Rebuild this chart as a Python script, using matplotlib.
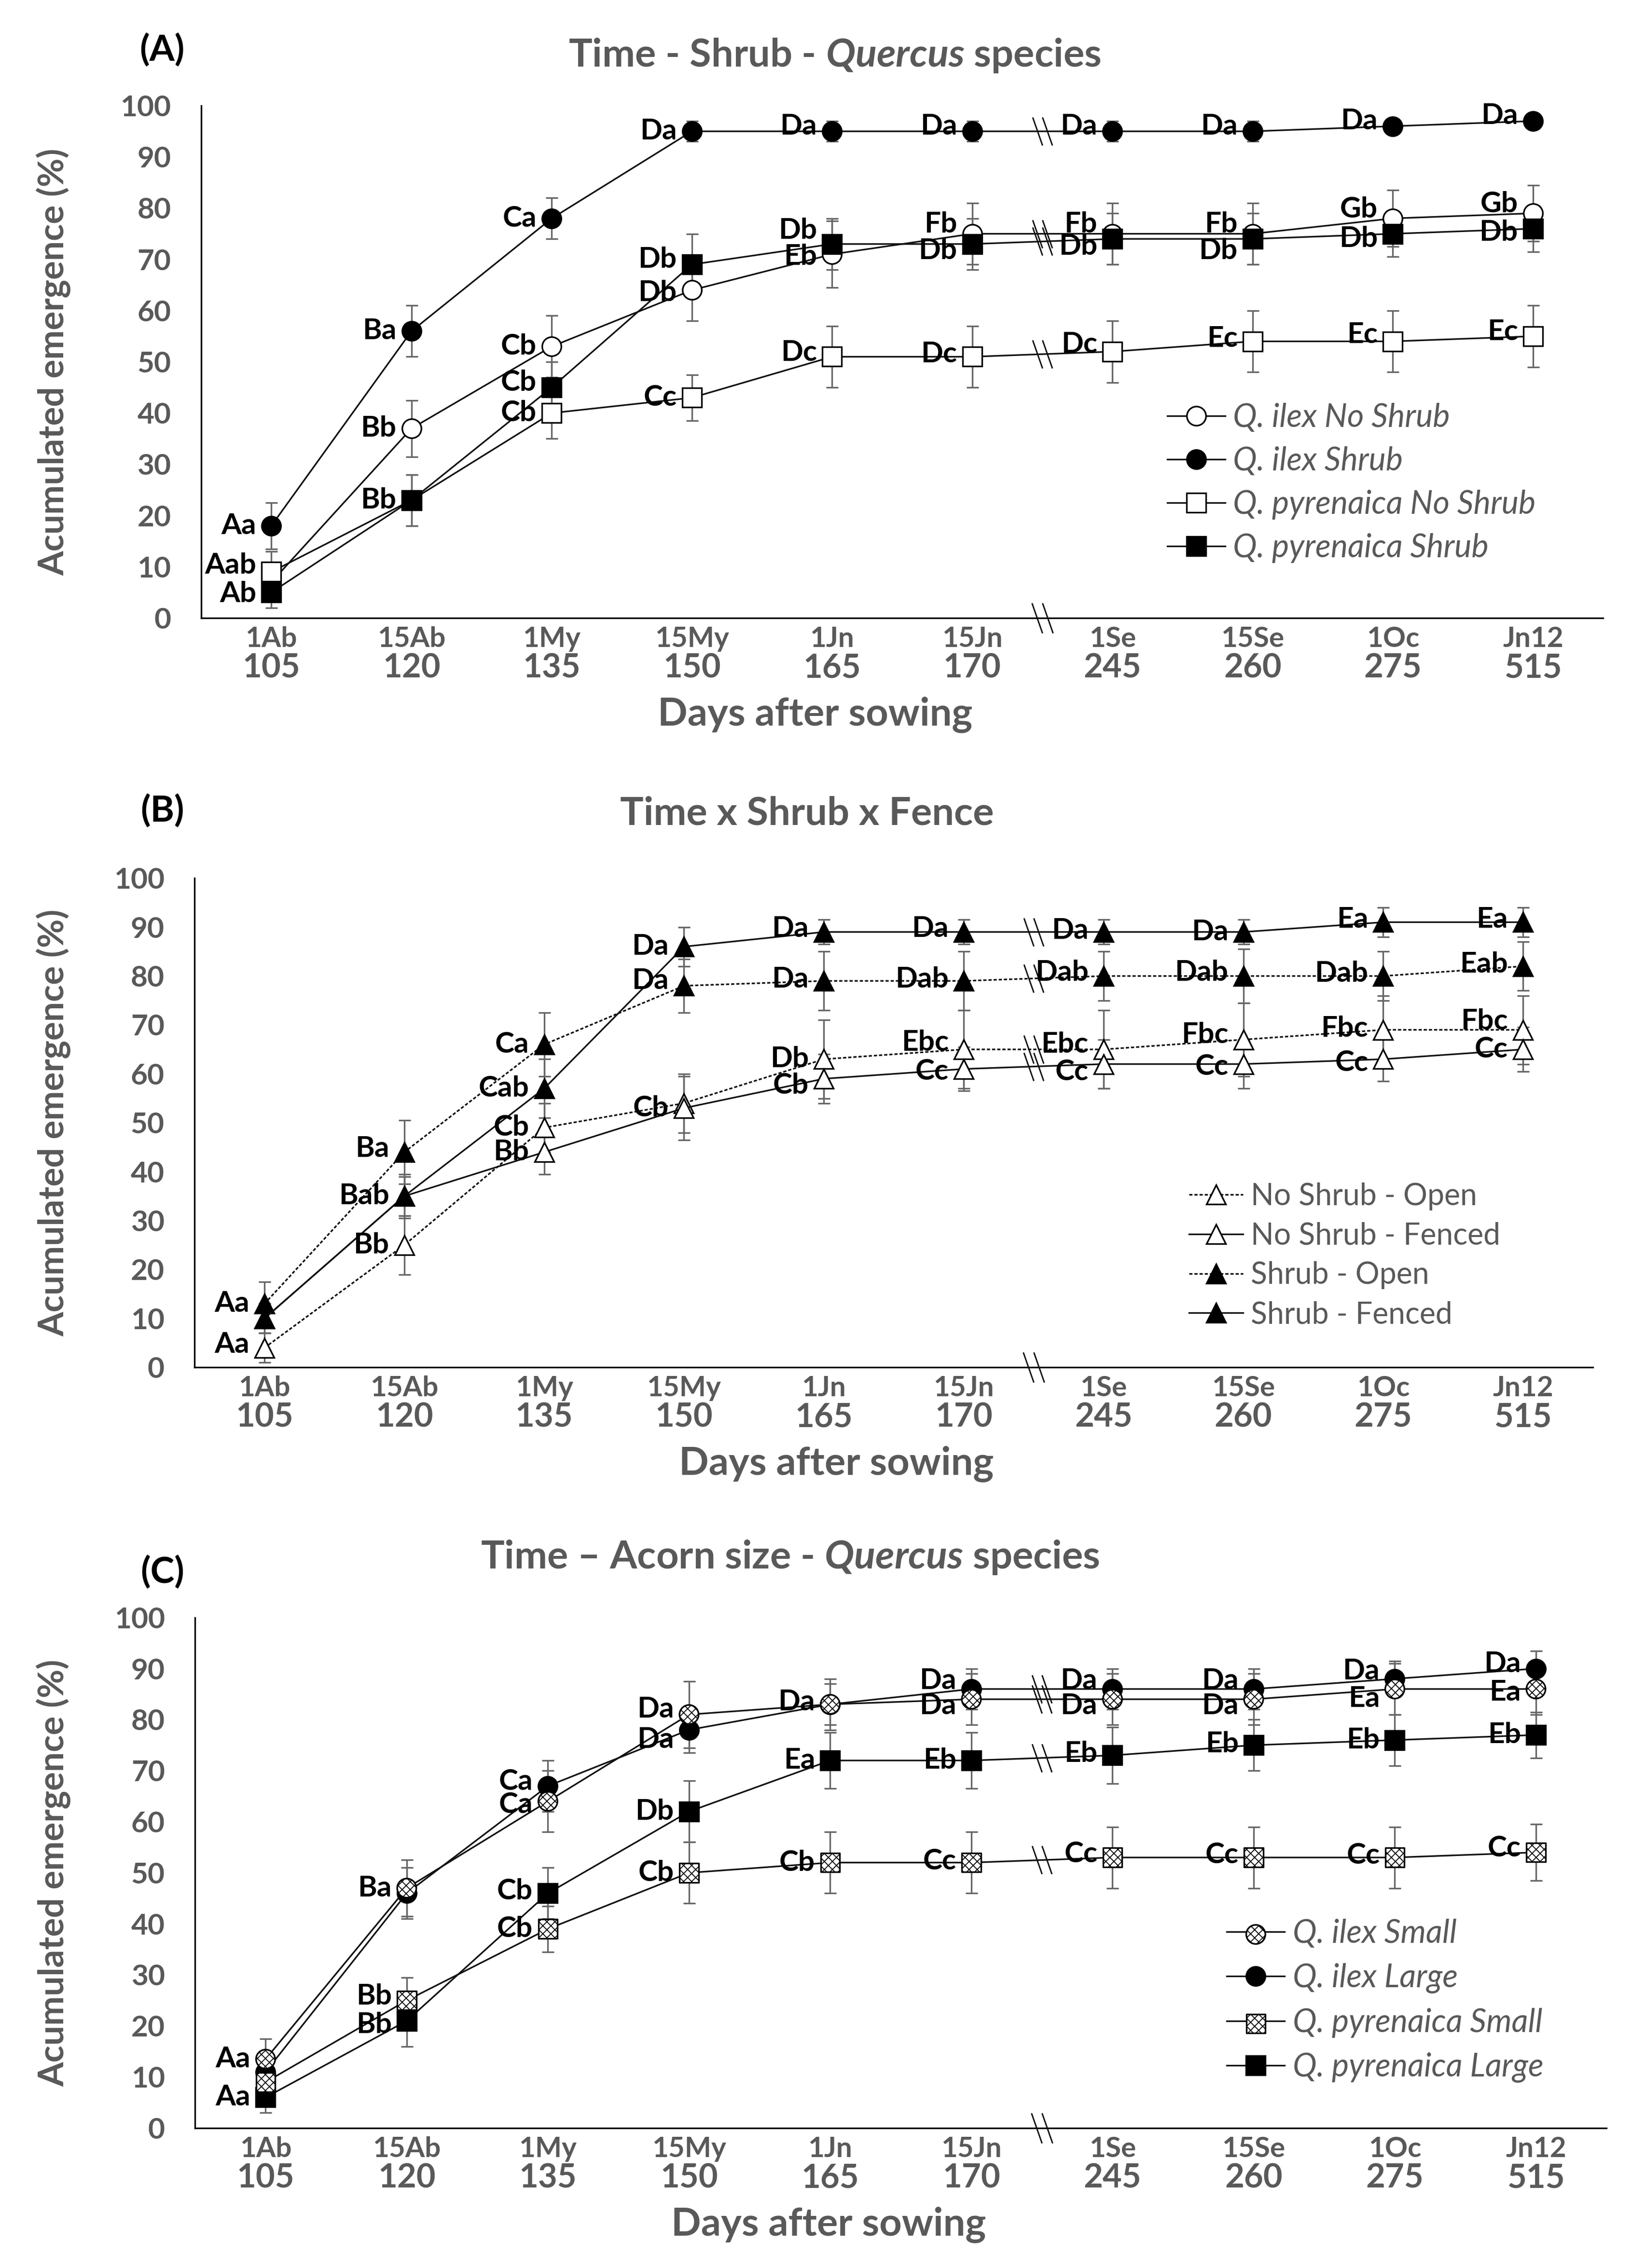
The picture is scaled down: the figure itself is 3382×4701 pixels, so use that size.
import numpy as np
import matplotlib
matplotlib.use('Agg')
import matplotlib.pyplot as plt
from matplotlib.path import Path
from matplotlib.lines import Line2D
from matplotlib.legend_handler import HandlerTuple

plt.rcParams['font.family'] = ['Lato', 'DejaVu Sans']
plt.rcParams['mathtext.fontset'] = 'custom'
plt.rcParams['mathtext.it'] = 'Lato:italic:bold'
plt.rcParams['mathtext.rm'] = 'Lato:bold'
plt.rcParams['hatch.linewidth'] = 0.45

GRAY = '#595959'
LINE = '#111111'
ERR = '#666666'

dates = ['1Ab', '15Ab', '1My', '15My', '1Jn', '15Jn', '1Se', '15Se', '1Oc', 'Jn12']
days = ['105', '120', '135', '150', '165', '170', '245', '260', '275', '515']

# ---- (A) Time - Shrub - Quercus species ----
a_ilex_ns = [7, 37, 53, 64, 71, 75, 75, 75, 78, 79]
a_ilex_ns_err = [3, 5.5, 6, 6, 6.5, 6, 6, 6, 5.5, 5.5]
a_ilex_ns_lab = ['', 'Bb', 'Cb', 'Db', 'Eb', 'Fb', 'Fb', 'Fb', 'Gb', 'Gb']
a_ilex_s = [18, 56, 78, 95, 95, 95, 95, 95, 96, 97]
a_ilex_s_err = [4.5, 5, 4, 2, 2, 2, 2, 2, 1.5, 1.5]
a_ilex_s_lab = ['Aa', 'Ba', 'Ca', 'Da', 'Da', 'Da', 'Da', 'Da', 'Da', 'Da']
a_pyr_ns = [9, 23, 40, 43, 51, 51, 52, 54, 54, 55]
a_pyr_ns_err = [4, 5, 5, 4.5, 6, 6, 6, 6, 6, 6]
a_pyr_ns_lab = ['Aab', '', 'Cb', 'Cc', 'Dc', 'Dc', 'Dc', 'Ec', 'Ec', 'Ec']
a_pyr_s = [5, 23, 45, 69, 73, 73, 74, 74, 75, 76]
a_pyr_s_err = [3, 5, 5, 6, 5, 5, 5, 5, 4.5, 4.5]
a_pyr_s_lab = ['Ab', 'Bb', 'Cb', 'Db', 'Db', 'Db', 'Db', 'Db', 'Db', 'Db']
a_names = ['Q. ilex No Shrub', 'Q. ilex Shrub', 'Q. pyrenaica No Shrub', 'Q. pyrenaica Shrub']

# ---- (B) Time x Shrub x Fence ----
b_ns_open = [4, 25, 49, 54, 63, 65, 65, 67, 69, 69]
b_ns_open_err = [3, 6, 5, 6, 8, 8, 8, 7.5, 7, 7]
b_ns_open_lab = ['Aa', 'Bb', 'Cb', '', 'Db', 'Ebc', 'Ebc', 'Fbc', 'Fbc', 'Fbc']
b_ns_fen = [10, 35, 44, 53, 59, 61, 62, 62, 63, 65]
b_ns_fen_err = [3, 4, 4.5, 6.5, 5, 4.5, 5, 5, 4.5, 4.5]
b_ns_fen_lab = ['', '', 'Bb', 'Cb', 'Cb', 'Cc', 'Cc', 'Cc', 'Cc', 'Cc']
b_s_open = [13, 44, 66, 78, 79, 79, 80, 80, 80, 82]
b_s_open_err = [4.5, 6.5, 6.5, 5.5, 6, 6, 5, 5.5, 5, 5]
b_s_open_lab = ['Aa', 'Ba', 'Ca', 'Da', 'Da', 'Dab', 'Dab', 'Dab', 'Dab', 'Eab']
b_s_fen = [10, 35, 57, 86, 89, 89, 89, 89, 91, 91]
b_s_fen_err = [3, 4.5, 6, 4, 2.5, 2.5, 2.5, 2.5, 3, 3]
b_s_fen_lab = ['', 'Bab', 'Cab', 'Da', 'Da', 'Da', 'Da', 'Da', 'Ea', 'Ea']
b_names = ['No Shrub - Open', 'No Shrub - Fenced', 'Shrub - Open', 'Shrub - Fenced']

# ---- (C) Time - Acorn size - Quercus species ----
c_ilex_sm = [13.5, 47, 64, 81, 83, 84, 84, 84, 86, 86]
c_ilex_sm_err = [4, 5.5, 6, 6.5, 5, 5, 5, 5, 5, 5]
c_ilex_sm_lab = ['Aa', '', 'Ca', 'Da', 'Da', 'Da', 'Da', 'Da', 'Ea', 'Ea']
c_ilex_lg = [11, 46, 67, 78, 83, 86, 86, 86, 88, 90]
c_ilex_lg_err = [3, 5, 5, 4.5, 4, 4, 4, 4, 3.5, 3.5]
c_ilex_lg_lab = ['', 'Ba', 'Ca', 'Da', '', 'Da', 'Da', 'Da', 'Da', 'Da']
c_pyr_sm = [9, 25, 39, 50, 52, 52, 53, 53, 53, 54]
c_pyr_sm_err = [3, 4.5, 4.5, 6, 6, 6, 6, 6, 6, 5.5]
c_pyr_sm_lab = ['', 'Bb', 'Cb', 'Cb', 'Cb', 'Cc', 'Cc', 'Cc', 'Cc', 'Cc']
c_pyr_lg = [6, 21, 46, 62, 72, 72, 73, 75, 76, 77]
c_pyr_lg_err = [3, 5, 5, 6, 5.5, 5.5, 5.5, 5, 5, 4.5]
c_pyr_lg_lab = ['Aa', 'Bb', 'Cb', 'Db', 'Ea', 'Eb', 'Eb', 'Eb', 'Eb', 'Eb']
c_names = ['Q. ilex Small', 'Q. ilex Large', 'Q. pyrenaica Small', 'Q. pyrenaica Large']

# label vertical nudges (value units), style only
a_dy = [[0, 0, 0, -0.5, -0.5, 1.8, 1.8, 1.8, 1.8, 1.8],
        [0, 0, 0, 0, 1, 1, 1, 1, 1, 1],
        [1.3, 0, 0, 0, 0.8, 0.5, 1.4, 0.5, 1.3, 0.8],
        [-0.3, 0, 1, 1, 2.6, -1.3, -1.5, -2.3, -1, -0.8]]
b_dy = [[0.7, 0, 0, 0, 0, 1.4, 1, 1, 0.3, 1.7],
        [0, 0, 0, 0, -1.4, -0.5, -1.6, -0.5, -0.7, 0],
        [0, 0.7, 0, 1, 0.3, 0.3, 0.7, 0.7, 0.5, 0.4],
        [0, 0, 0, 0, 0.7, 0.7, 0.3, 0, 0.5, 0.5]]
c_dy = [[0, 0, -0.7, 1, 0.4, -1.3, -1.3, -1.3, -1.9, -0.7],
        [0, 1, 0.8, -1.9, 0, 1.6, 1.6, 1.6, 1.5, 0.9],
        [0, 0.8, 0, 0, 0, 0.3, 0.7, 0.5, 0.4, 0.8],
        [0, -0.8, 0.4, 0, 0, 0, 0.3, 0.2, 0, 0]]

BRK = Path([(-0.35, 0.5), (0.0, -0.5), (0.0, 0.5), (0.35, -0.5)],
           [Path.MOVETO, Path.LINETO, Path.MOVETO, Path.LINETO])
MS = 9.5


def panel(ax, series, dys, names, legend_xy, italic_legend, lsize, lspace):
    x = np.arange(len(dates))
    for s in series:
        ax.errorbar(x, s['y'], yerr=s['err'], fmt='none', ecolor=ERR, elinewidth=0.8,
                    capsize=3, capthick=0.8, zorder=2)
    handles = []
    for s, dy, nm in zip(series, dys, names):
        if s['fc'] == 'pattern':
            ax.plot(x, s['y'], ls=s['ls'], color=LINE, lw=0.8, zorder=3)
            sc = ax.scatter(x, s['y'], s=MS ** 2, marker=s['m'], facecolor='white',
                            edgecolor='black', linewidth=0.8, hatch='xxxxxx', zorder=3.5)
            h = (Line2D([], [], ls=s['ls'], color=LINE, lw=0.8), sc)
        else:
            ax.plot(x, s['y'], ls=s['ls'], color=LINE, lw=0.8, marker=s['m'], ms=MS,
                    mfc=s['fc'], mec='black', mew=0.8, zorder=3)
            h = Line2D([], [], ls=s['ls'], color=LINE, lw=0.8, marker=s['m'], ms=MS,
                       mfc=s['fc'], mec='black', mew=0.8)
        handles.append(h)
        yb = 0.5 * (s['y'][5] + s['y'][6])
        ax.plot([5.5], [yb], ls='none', marker=BRK, ms=14, mfc='none', mec=LINE,
                mew=0.7, zorder=4)
        for i, lab in enumerate(s['lab']):
            if lab:
                ax.annotate(lab, (i, s['y'][i] + dy[i]), xytext=(-7.5, 0), textcoords='offset points',
                            ha='right', va='center', fontsize=14.5, fontweight='bold',
                            color='black', zorder=5)
    # axis break
    ax.plot([5.5], [0], ls='none', marker=BRK, ms=15, mfc='none', mec=LINE, mew=0.7,
            zorder=6, clip_on=False)
    ax.set_xlim(-0.5, 9.5)
    ax.set_ylim(0, 100)
    ax.set_yticks(range(0, 101, 10))
    ax.set_xticks(x)
    ax.set_xticklabels(dates)
    for t in ax.get_yticklabels():
        t.set_fontsize(14.5); t.set_fontweight('bold'); t.set_color(GRAY)
    for t in ax.get_xticklabels():
        t.set_fontsize(14); t.set_fontweight('bold'); t.set_color(GRAY)
    ax.tick_params(axis='y', length=0, pad=15)
    ax.tick_params(axis='x', length=0, pad=4)
    for i, d in enumerate(days):
        ax.annotate(d, (i, 0), xycoords=('data', 'axes fraction'), xytext=(0, -25),
                    textcoords='offset points', ha='center', va='center', fontsize=16.5,
                    fontweight='bold', color=GRAY, annotation_clip=False)
    for sp in ['top', 'right']:
        ax.spines[sp].set_visible(False)
    for sp in ['left', 'bottom']:
        ax.spines[sp].set_linewidth(0.8)
        ax.spines[sp].set_color('black')
    prop = {'size': lsize, 'style': 'italic' if italic_legend else 'normal'}
    ax.legend(handles, names, loc='upper left', bbox_to_anchor=legend_xy, frameon=False,
              prop=prop, labelcolor=GRAY, handlelength=1.8, handletextpad=0.25,
              borderpad=0, borderaxespad=0, labelspacing=lspace, scatterpoints=1,
              handler_map={tuple: HandlerTuple(ndivide=1)})


def txt(ax, s, xy, off, **kw):
    ax.annotate(s, xy, xycoords='axes fraction', xytext=off, textcoords='offset points',
                ha='center', va='center', annotation_clip=False, **kw)


fig = plt.figure(figsize=(3382 / 300, 4701 / 300), dpi=300)
axA = fig.add_axes([0.1233, 0.7275, 0.859, 0.2259])
axB = fig.add_axes([0.1192, 0.3971, 0.8569, 0.2157])
axC = fig.add_axes([0.1195, 0.0617, 0.8649, 0.2251])

panel(axA,
      [dict(y=a_ilex_ns, err=a_ilex_ns_err, lab=a_ilex_ns_lab, ls='-', m='o', fc='white'),
       dict(y=a_ilex_s, err=a_ilex_s_err, lab=a_ilex_s_lab, ls='-', m='o', fc='black'),
       dict(y=a_pyr_ns, err=a_pyr_ns_err, lab=a_pyr_ns_lab, ls='-', m='s', fc='white'),
       dict(y=a_pyr_s, err=a_pyr_s_err, lab=a_pyr_s_lab, ls='-', m='s', fc='black')],
      a_dy, a_names, (0.689, 0.42), True, 16, 0.42)

dotted = (0, (2, 1.2))
panel(axB,
      [dict(y=b_ns_open, err=b_ns_open_err, lab=b_ns_open_lab, ls=dotted, m='^', fc='white'),
       dict(y=b_ns_fen, err=b_ns_fen_err, lab=b_ns_fen_lab, ls='-', m='^', fc='white'),
       dict(y=b_s_open, err=b_s_open_err, lab=b_s_open_lab, ls=dotted, m='^', fc='black'),
       dict(y=b_s_fen, err=b_s_fen_err, lab=b_s_fen_lab, ls='-', m='^', fc='black')],
      b_dy, b_names, (0.711, 0.378), False, 15, 0.38)

panel(axC,
      [dict(y=c_ilex_sm, err=c_ilex_sm_err, lab=c_ilex_sm_lab, ls='-', m='o', fc='pattern'),
       dict(y=c_ilex_lg, err=c_ilex_lg_err, lab=c_ilex_lg_lab, ls='-', m='o', fc='black'),
       dict(y=c_pyr_sm, err=c_pyr_sm_err, lab=c_pyr_sm_lab, ls='-', m='s', fc='pattern'),
       dict(y=c_pyr_lg, err=c_pyr_lg_err, lab=c_pyr_lg_lab, ls='-', m='s', fc='black')],
      c_dy, c_names, (0.731, 0.41), True, 16, 0.45)

tkw = dict(fontsize=19.5, fontweight='bold', color=GRAY)
txt(axA, r'Time - Shrub - $\mathit{Quercus}$ species', (0.452, 1), (0, 25), **tkw)
txt(axB, 'Time x Shrub x Fence', (0.438, 1), (0, 32), **tkw)
txt(axC, r'Time – Acorn size - $\mathit{Quercus}$ species', (0.4215, 1), (0, 30), **tkw)

for ax, xc in [(axA, 0.438), (axB, 0.459), (axC, 0.449)]:
    txt(ax, 'Days after sowing', (xc, 0), (0, -48), **tkw)
    bb = ax.get_position()
    fig.text(0.033, 0.5 * (bb.y0 + bb.y1), 'Acumulated emergence (%)', rotation=90,
             ha='center', va='center', fontsize=17.5, fontweight='bold', color=GRAY)

for lab, y in [('(A)', 0.978), ('(B)', 0.6424), ('(C)', 0.3067)]:
    fig.text(0.0994, y, lab, ha='center', va='center', fontsize=18, fontweight='bold',
             color='black')

fig.savefig('out.png', dpi=300)
